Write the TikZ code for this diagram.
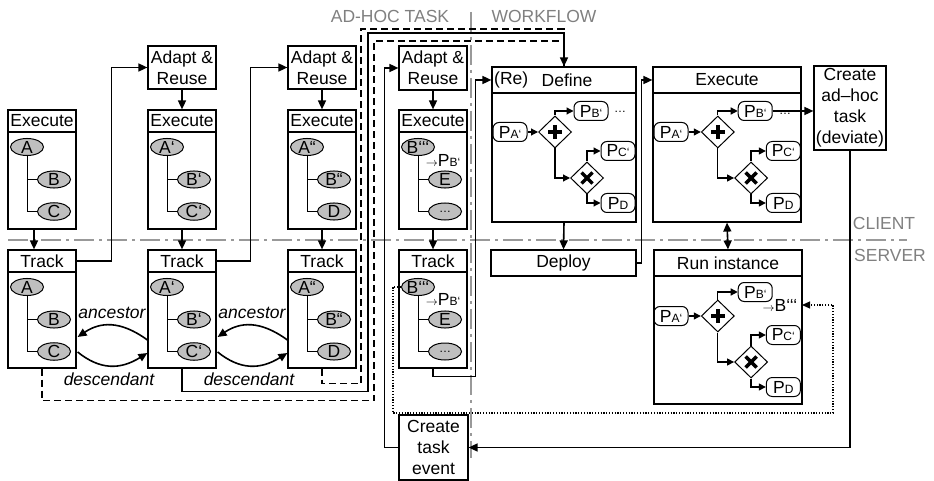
\documentclass[tikz,border=0pt]{standalone}
\usepackage{fontspec}
\setmainfont{Liberation Sans}
\usetikzlibrary{arrows.meta,shapes.geometric,calc}
\newcommand{\fs}{\fontsize{17.5}{21}\selectfont}
\newcommand{\fsub}{\fontsize{12}{12}\selectfont}
\newcommand{\PP}[1]{P{\fsub #1}}
\tikzset{
  box/.style={draw, line width=1.2pt, rectangle, inner sep=0pt, align=center, font=\fs},
  ell/.style={draw, ellipse, fill=black!25, minimum width=33pt, minimum height=17pt, inner sep=0pt, line width=1pt, font=\fs},
  pnode/.style={draw, rounded corners=6pt, minimum width=34pt, minimum height=19pt, inner sep=0pt, line width=1pt, font=\fs},
  gw/.style={draw, diamond, minimum width=33pt, minimum height=32pt, inner sep=0pt, line width=1pt, fill=white},
  conn/.style={line width=1.6pt, -{Triangle[length=9pt,width=8pt]}},
  fconn/.style={line width=1.2pt, -{Triangle[length=7pt,width=7pt]}},
  treeline/.style={line width=1pt},
  dsh/.style={line width=1.5pt, dash pattern=on 7pt off 4pt},
  dtd/.style={line width=1.2pt, dash pattern=on 1.2pt off 1.6pt},
  sep/.style={line width=2pt, black!40, dash pattern=on 20pt off 5pt on 3pt off 5pt},
  glabel/.style={text=black!50, font=\fs, inner sep=0pt},
  itl/.style={font=\fs\itshape, inner sep=0pt},
  txt/.style={font=\fs, inner sep=0pt},
  sym/.style={line width=3.5pt}
}
\newcommand{\mytree}[6]{%
  \node[ell] (#1a) at (#2+19,#3+15) {#4};
  \node[ell] (#1b) at (#2+46,#3+47.5) {#5};
  \node[ell] (#1c) at (#2+46,#3+79.5) {#6};
  \draw[treeline] (#1a.south) |- (#1b.west);
  \draw[treeline] (#1a.south) |- (#1c.west);
}
\newcommand{\myflow}[5]{%
  \node[pnode] (#1a) at (#2,#3) {\PP{A‘}};
  \node[gw] (#1g) at (#2+45*#4,#3) {};
  \node[pnode] (#1b) at (#2+81*#4,#3-#5) {\PP{B‘}};
  \node[pnode] (#1c) at (#2+108*#4,#3+19) {\PP{C‘}};
  \node[gw] (#1x) at (#2+77*#4,#3+46) {};
  \node[pnode] (#1d) at (#2+108*#4,#3+71) {\PP{D}};
  \draw[sym] ($(#1g)+(-7,0)$) -- ($(#1g)+(7,0)$) ($(#1g)+(0,-7)$) -- ($(#1g)+(0,7)$);
  \draw[sym] ($(#1x)+(-5.5,-5.5)$) -- ($(#1x)+(5.5,5.5)$) ($(#1x)+(-5.5,5.5)$) -- ($(#1x)+(5.5,-5.5)$);
  \draw[fconn] (#1a.east) -- (#1g.west);
  \draw[fconn] (#1g.north) |- (#1b.west);
  \draw[fconn] (#1g.south) |- (#1x.west);
  \draw[fconn] (#1x.north) |- (#1c.west);
  \draw[fconn] (#1x.south) |- (#1d.west);
}
\begin{document}
\begin{tikzpicture}[x=1pt,y=-1pt]
\useasboundingbox (0,0) rectangle (934,481);
% separators
\draw[sep] (8,240) -- (907,240);
\draw[sep] (471,12) -- (471,458);
\node[glabel] (lad) at (390,16) {AD-HOC TASK};
\node[glabel] (lwf) at (544,16) {WORKFLOW};
\node[glabel] (lcl) at (884,223) {CLIENT};
\node[glabel] (lsv) at (890,255) {SERVER};

% column 1
\node[box, minimum width=68pt, minimum height=22pt] (ex1h) at (42,121) {Execute};
\node[box, minimum width=68pt, minimum height=97pt] (ex1b) at (42,180.5) {};
\node[box, minimum width=68pt, minimum height=22pt] (tr1h) at (42,261) {Track};
\node[box, minimum width=68pt, minimum height=96pt] (tr1b) at (42,320) {};
\mytree{e1}{8}{132}{A}{B}{C}
\mytree{t1}{8}{272}{A}{B}{C}

% column 2
\node[box, minimum width=68pt, minimum height=43pt] (ad2) at (182,67.5) {Adapt \&\\Reuse};
\node[box, minimum width=68pt, minimum height=22pt] (ex2h) at (182,121) {Execute};
\node[box, minimum width=68pt, minimum height=97pt] (ex2b) at (182,180.5) {};
\node[box, minimum width=68pt, minimum height=22pt] (tr2h) at (182,261) {Track};
\node[box, minimum width=68pt, minimum height=96pt] (tr2b) at (182,320) {};
\mytree{e2}{148}{132}{A‘}{B‘}{C‘}
\mytree{t2}{148}{272}{A‘}{B‘}{C‘}

% column 3
\node[box, minimum width=68pt, minimum height=43pt] (ad3) at (322,67.5) {Adapt \&\\Reuse};
\node[box, minimum width=68pt, minimum height=22pt] (ex3h) at (322,121) {Execute};
\node[box, minimum width=68pt, minimum height=97pt] (ex3b) at (322,180.5) {};
\node[box, minimum width=68pt, minimum height=22pt] (tr3h) at (322,261) {Track};
\node[box, minimum width=68pt, minimum height=96pt] (tr3b) at (322,320) {};
\mytree{e3}{288}{132}{A“}{B“}{D}
\mytree{t3}{288}{272}{A“}{B“}{D}

% column 4
\node[box, minimum width=68pt, minimum height=44pt] (ad4) at (433,68) {Adapt \&\\Reuse};
\node[box, minimum width=68pt, minimum height=22pt] (ex4h) at (433,121) {Execute};
\node[box, minimum width=68pt, minimum height=97pt] (ex4b) at (433,180.5) {};
\node[box, minimum width=68pt, minimum height=22pt] (tr4h) at (433,261) {Track};
\node[box, minimum width=68pt, minimum height=96pt] (tr4b) at (433,320) {};
\mytree{e4}{399}{132}{B‘‘‘}{E}{{\fsub\ldots}}
\mytree{t4}{399}{272}{B‘‘‘}{E}{{\fsub\ldots}}
\node[txt] (e4p) at (443,160) {{\fsub$\rightarrow$}\PP{B‘}};
\node[txt] (t4p) at (443,299) {{\fsub$\rightarrow$}\PP{B‘}};
\node[box, minimum width=69pt, minimum height=65pt] (cte) at (433.5,447.5) {Create\\task\\event};

% workflow
\node[box, minimum width=144pt, minimum height=26pt] (defh) at (564,80) {};
\node[box, minimum width=144pt, minimum height=129pt] (defb) at (564,157.5) {};
\node[txt, anchor=west] (dre) at (494,80) {(Re)};
\node[txt] (ddf) at (567,80) {Define};
\node[box, minimum width=145pt, minimum height=26pt] (dep) at (563.5,263) {Deploy};
\node[box, minimum width=148pt, minimum height=26pt] (exwh) at (727,80) {Execute};
\node[box, minimum width=148pt, minimum height=129pt] (exwb) at (727,157.5) {};
\node[box, minimum width=148pt, minimum height=26pt] (runh) at (728,263) {Run instance};
\node[box, minimum width=148pt, minimum height=128pt] (runb) at (728,340) {};
\node[box, minimum width=72pt, minimum height=84pt] (adhoc) at (850,108) {Create\\ad–hoc\\task\\(deviate)};

\myflow{d}{510}{132}{1}{21}
\myflow{x}{671}{132}{1.04}{21}
\myflow{r}{671}{316}{1.04}{24}
\node[txt] (ddots) at (620,112) {{\fsub\ldots}};
\node[txt] (xdots) at (785,114) {{\fsub\ldots}};
\node[txt] (rbt) at (780,305) {{\fsub$\rightarrow$}B‘‘‘};

% connectors left
\draw[conn] ($(ex1b.south)+(-8,0)$) -- ($(tr1h.north)+(-8,0)$);
\draw[conn] (ex2b.south) -- (tr2h.north);
\draw[conn] (ex3b.south) -- (tr3h.north);
\draw[conn] (ex4b.south) -- (tr4h.north);
\draw[conn] (ad2.south) -- (ex2h.north);
\draw[conn] (ad3.south) -- (ex3h.north);
\draw[conn] (ad4.south) -- (ex4h.north);
\draw[conn] (tr1h.east) -| ($(ad2.west)+(-36,0)$) -- (ad2.west);
\draw[conn] (tr2h.east) -| ($(ad3.west)+(-37,0)$) -- (ad3.west);

% ancestor / descendant
\draw[conn] ($(tr2b.west)+(0,20)$) .. controls (120,320) and (100,322) .. ($(tr1b.east)+(1,17)$);
\draw[conn] ($(tr1b.east)+(1,32)$) .. controls (100,370) and (120,370) .. ($(tr2b.west)+(0,33)$);
\draw[conn] ($(tr3b.west)+(0,20)$) .. controls (260,320) and (240,322) .. ($(tr2b.east)+(1,17)$);
\draw[conn] ($(tr2b.east)+(1,32)$) .. controls (240,370) and (260,370) .. ($(tr3b.west)+(0,33)$);
\node[itl] (an1) at (112,313) {ancestor};
\node[itl] (an2) at (252,313) {ancestor};
\node[itl] (de1) at (109,379) {descendant};
\node[itl] (de2) at (249,379) {descendant};

% long lines to Define
\draw[dsh] (tr3b.south) -- ++(0,15) -| (361,29) -| (defh.north);
\draw[dsh] (tr1b.south) -- ++(0,32) -| (374,41) -| (defh.north);
\draw[conn] (tr2b.south) -- ++(0,23) -| (368,33) -| (defh.north);

% ad-hoc loop
\draw[conn] (cte.west) -- ++(-14,0) |- (ad4.west);
\draw[conn] (tr4b.south) -- ++(0,8) -| ($(defh.west)+(-16,0)$) -- (defh.west);
\draw[conn] (defb.south) -- (dep.north);
\draw[conn] (dep.east) -- ++(5,0) |- (exwh.west);
\draw[line width=1.6pt, {Triangle[length=9pt,width=8pt]}-{Triangle[length=9pt,width=8pt]}] (exwb.south) -- (runh.north);
\draw[conn] (xb.east) -- (xb.east -| adhoc.west);
\draw[conn] (adhoc.south) |- (cte.east);
\coordinate (dotend) at (802,305);
\draw[dtd, -{Triangle[length=8pt,width=7pt]}] (t4a.west) -- (393,287) -- (393,413) -- (833,413) -- (833,305) -- (dotend);
\end{tikzpicture}
\end{document}
